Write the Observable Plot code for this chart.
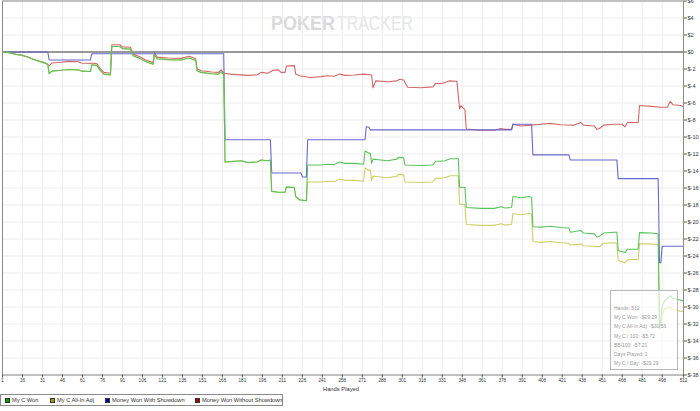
<!DOCTYPE html>
<html>
<head>
<meta charset="utf-8">
<script src="https://cdn.jsdelivr.net/npm/d3@7"></script>
<script src="https://cdn.jsdelivr.net/npm/@observablehq/plot@0.6"></script>
<style>
  html, body { margin: 0; padding: 0; background: #fff; }
  #wrap { position: relative; width: 700px; height: 411px; font-family: Arial, "Liberation Sans", sans-serif; overflow: hidden; }
  #legend { position: absolute; left: 0; top: 394px; width: 283px; height: 12px; border: 1px solid #8a8a8a; box-sizing: border-box; font-size: 5.7px; color: #333; }
  #legend .item { position: absolute; top: 3px; display: flex; align-items: center; white-space: nowrap; line-height: 5px; }
  #legend .sw { width: 3px; height: 3px; border: 0.7px solid #333; margin-right: 2px; }
  #info { position: absolute; left: 610px; top: 290px; width: 68px; height: 80px; border: 1px solid #b8b8b8; box-sizing: border-box; background: rgba(255,255,255,0.65); color: #9a9a9a; font-size: 5px; }
  #info div { position: absolute; left: 3px; white-space: nowrap; }
</style>
</head>
<body>
<div id="wrap"></div>
<script>
// ---------- data ----------
const xTicks = [1,16,31,46,61,76,91,106,121,136,151,166,181,196,211,226,241,256,271,286,301,316,331,346,361,376,391,406,421,436,451,466,481,496,512];
const yTicks = [6,4,2,0,-2,-4,-6,-8,-10,-12,-14,-16,-18,-20,-22,-24,-26,-28,-30,-32,-34,-36,-38];

const seriesNames = ["My C Won", "My C All-In Adj", "Money Won With Showdown", "Money Won Without Showdown"];

// [hand, dollars]
const myCWon = [[1,0],[5,-0.05],[11,-0.27],[16,-0.4],[20,-0.6],[24,-0.85],[28,-1.05],[32,-1.25],[35,-1.45],
 [36,-2.55],[38,-2.25],[45,-2.15],[50,-2.05],[58,-2.1],[60,-2.25],[67,-2.3],[68,-1.5],[72,-1.6],[74,-2.1],[77,-2.6],[82,-2.7],
 [83,0.65],[89,0.65],[91,0.4],[97,0.35],[99,-0.45],[104,-0.75],[108,-1.1],[114,-1.45],[115,-0.3],[117,-0.8],[125,-0.9],[135,-0.95],
 [141,-0.7],[146,-1.0],[147,-2.2],[150,-2.4],[158,-2.55],[163,-2.6],[165,-2.3],[167,-2.7],
 [168,-12.95],[172,-12.9],[180,-12.8],[185,-13.0],[192,-12.95],[195,-12.7],[200,-12.8],[202,-12.7],[203,-16.4],[208,-16.5],[213,-16.5],
 [214,-15.9],[220,-15.95],[221,-17.0],[224,-17.4],[229,-17.5],[230,-13.3],[240,-13.3],[245,-13.2],[250,-13.25],[254,-12.95],[258,-13.1],
 [265,-13.1],[272,-13.2],[273,-11.65],[276,-11.9],[277,-11.9],[278,-13.1],[279,-12.6],[285,-12.7],[290,-12.8],[297,-12.6],[298,-12.4],
 [302,-12.45],[303,-13.3],[315,-13.35],[324,-13.3],[326,-12.85],[330,-12.85],[333,-12.8],[337,-12.55],[343,-12.55],[344,-15.9],[348,-15.95],
 [349,-18.3],[360,-18.4],[370,-18.4],[375,-18.2],[378,-18.35],[383,-18.3],[384,-17.0],[390,-17.15],[396,-17.0],[398,-17.1],[399,-20.55],
 [405,-20.6],[412,-20.5],[420,-20.65],[426,-20.7],[427,-21.2],[435,-21.0],[437,-21.3],[445,-21.4],[447,-21.75],[449,-21.7],[452,-21.3],
 [460,-21.2],[462,-21.2],[463,-23.35],[468,-23.6],[470,-23.2],[478,-23.2],[479,-21.25],[488,-21.3],[493,-21.4],[494,-32.4],[495,-31.5],
 [496,-29.9],[498,-29.2],[500,-29.0],[502,-28.7],[504,-29.0],[510,-29.2],[512,-29.29]];

const myCAllInAdj = [[1,0],[5,-0.05],[11,-0.27],[16,-0.4],[20,-0.6],[24,-0.85],[28,-1.05],[32,-1.25],[35,-1.45],
 [36,-2.55],[38,-2.25],[45,-2.15],[50,-2.05],[58,-2.1],[60,-2.25],[67,-2.3],[68,-1.5],[72,-1.6],[74,-2.1],[77,-2.6],[82,-2.7],
 [83,0.65],[89,0.65],[91,0.4],[97,0.35],[99,-0.45],[104,-0.75],[108,-1.1],[114,-1.45],[115,-0.3],[117,-0.8],[125,-0.9],[135,-0.95],
 [141,-0.7],[146,-1.0],[147,-2.2],[150,-2.4],[158,-2.55],[163,-2.6],[165,-2.3],[167,-2.7],
 [168,-12.95],[172,-12.9],[180,-12.8],[185,-13.0],[192,-12.95],[195,-12.7],[200,-12.8],[202,-12.7],[203,-16.4],[208,-16.5],[213,-16.5],
 [214,-15.9],[220,-15.95],[221,-17.0],[224,-17.4],[229,-17.5],
 [230,-15.3],[240,-15.3],[245,-15.2],[250,-15.25],[254,-14.95],[258,-15.1],[265,-15.1],[272,-15.2],[273,-13.65],[276,-13.9],[277,-13.9],
 [278,-15.1],[279,-14.6],[285,-14.7],[290,-14.8],[297,-14.6],[298,-14.4],[302,-14.45],[303,-15.3],[315,-15.35],[324,-15.3],[326,-14.85],
 [330,-14.85],[333,-14.8],[337,-14.55],[343,-14.55],[344,-17.9],[348,-17.95],[349,-20.3],[360,-20.4],[370,-20.4],[375,-20.2],[378,-20.35],
 [383,-20.3],[384,-19.0],[390,-19.15],[396,-19.0],[398,-19.1],[399,-22.3],[405,-22.4],[412,-22.3],[420,-22.45],[426,-22.5],[427,-22.7],
 [435,-22.6],[437,-22.8],[445,-22.85],[447,-22.9],[449,-22.9],[452,-22.5],[460,-22.45],[462,-22.5],[463,-24.5],[468,-24.8],[470,-24.45],
 [478,-24.4],[479,-22.55],[488,-22.6],[493,-22.65],[494,-32.6],[495,-32.0],[496,-30.9],[498,-30.2],[500,-30.1],[502,-30.0],[504,-30.3],
 [510,-30.5],[512,-30.56]];

const wonWithShowdown = [[1,0],[35,0],[36,-0.94],[67,-0.94],[68,-0.2],[167,-0.2],[168,-10.33],[202,-10.33],[203,-14.23],[225,-14.23],
 [226,-14.7],[229,-14.7],[230,-10.33],[273,-10.33],[274,-8.8],[276,-8.85],[277,-9.16],[383,-9.16],[384,-8.5],[398,-8.5],[399,-12.1],
 [426,-12.1],[427,-12.7],[462,-12.7],[463,-14.9],[493,-14.9],[494,-24.8],[495,-24.8],[496,-22.85],[512,-22.85]];

const wonWithoutShowdown = [[1,0],[5,-0.05],[11,-0.27],[16,-0.4],[20,-0.6],[24,-0.85],[28,-1.05],[32,-1.25],[35,-1.45],
 [36,-1.6],[38,-1.3],[45,-1.2],[50,-1.1],[58,-1.15],[60,-1.3],[67,-1.35],[68,-1.3],[72,-1.4],[74,-1.9],[77,-2.4],[82,-2.5],
 [83,0.85],[89,0.85],[91,0.6],[97,0.55],[99,-0.25],[104,-0.55],[108,-0.9],[114,-1.25],[115,-0.1],[117,-0.6],[125,-0.7],[135,-0.75],
 [141,-0.5],[146,-0.8],[147,-2.0],[150,-2.2],[158,-2.35],[163,-2.4],[165,-2.1],[167,-2.5],[172,-2.6],[185,-2.75],[192,-2.7],[195,-2.4],
 [200,-2.5],[204,-2.15],[208,-2.1],[210,-2.4],[213,-2.4],[214,-1.65],[220,-1.6],[221,-2.6],[224,-2.8],[232,-3.0],[240,-2.9],[245,-2.8],
 [250,-2.85],[254,-2.6],[258,-2.75],[265,-2.7],[272,-2.6],[278,-2.7],[279,-4.2],[281,-3.4],[290,-3.5],[297,-3.4],[299,-3.2],[302,-3.3],
 [305,-4.15],[315,-4.2],[324,-4.1],[326,-3.7],[330,-3.7],[333,-3.6],[336,-3.4],[342,-3.45],[344,-6.7],[345,-6.3],[348,-6.8],[349,-9.05],
 [360,-9.2],[370,-9.2],[375,-9.0],[378,-9.1],[383,-9.1],[384,-8.5],[390,-8.7],[398,-8.6],[405,-8.5],[412,-8.4],[420,-8.55],[430,-8.6],
 [435,-8.3],[437,-8.6],[445,-8.7],[447,-9.1],[449,-9.0],[452,-8.6],[460,-8.5],[466,-8.5],[468,-8.8],[470,-8.3],[478,-8.3],[479,-6.3],
 [488,-6.4],[495,-6.5],[500,-6.5],[502,-5.8],[504,-6.2],[510,-6.3],[512,-6.45]];

const lineColors = ["#52c052", "#cccc5e", "#6060d0", "#d06060"];
const legendColors = ["#00a000", "#a0a000", "#0000a0", "#a00000"];

const infoLines = ["Hands: 512", "My C Won: -$29.29", "My C All-In Adj: -$30.56", "My C / 100: -$5.72", "BB/100: -57.21", "Days Played: 1", "My C / Day: -$29.29"];

// ---------- build ----------
const toRows = (arr, name) => arr.map(([hand, value]) => ({hand, value, series: name}));
const drawOrder = [
  [wonWithoutShowdown, 3],
  [wonWithShowdown, 2],
  [myCAllInAdj, 1],
  [myCWon, 0]
];

const marks = [
  Plot.ruleX(xTicks, {stroke: "#ececec", strokeWidth: 1}),
  Plot.ruleY(yTicks, {stroke: "#ececec", strokeWidth: 1}),
  Plot.ruleY([0], {stroke: "#7a7a7a", strokeWidth: 1.4}),
  ...drawOrder.map(([arr, i]) => Plot.line(toRows(arr, seriesNames[i]), {
    x: "hand", y: "value", stroke: lineColors[i], strokeWidth: 1.1, strokeOpacity: 0.95
  })),
  Plot.frame({stroke: "#8a8a8a", strokeWidth: 1}),
  Plot.axisX({ticks: xTicks, tickSize: 3, tickPadding: 1, fontSize: 4.6, tickFormat: d => String(d), label: null, stroke: "#555", fill: "#333"}),
  Plot.axisY({anchor: "right", ticks: yTicks, tickSize: 3, tickPadding: 1, fontSize: 5.6, tickFormat: d => "$" + d, label: null, stroke: "#555", fill: "#333"})
];

const chart = Plot.plot({
  width: 700,
  height: 392,
  marginLeft: 2,
  marginRight: 17,
  marginTop: 0.5,
  marginBottom: 17.5,
  x: {domain: [1, 512]},
  y: {domain: [-38, 6]},
  style: {fontFamily: "Arial, 'Liberation Sans', sans-serif", background: "white", overflow: "visible"},
  marks
});

const wrap = document.getElementById("wrap");
wrap.appendChild(chart);

// watermark + axis title inside the svg
const svg = d3.select(chart);
svg.insert("text", ":first-child")
  .attr("x", 271).attr("y", 30)
  .attr("text-anchor", "start")
  .attr("font-size", 20).attr("font-weight", "bold").attr("fill", "#d9d9d9")
  .attr("font-family", "Arial, 'Liberation Sans', sans-serif")
  .attr("textLength", 64).attr("lengthAdjust", "spacingAndGlyphs")
  .text("POKER");
svg.insert("text", ":first-child")
  .attr("x", 337).attr("y", 30)
  .attr("text-anchor", "start")
  .attr("font-size", 20).attr("fill", "#e6e6e6")
  .attr("font-family", "Arial, 'Liberation Sans', sans-serif")
  .attr("textLength", 76).attr("lengthAdjust", "spacingAndGlyphs")
  .text("TRACKER");
svg.insert("rect", ":first-child").attr("width", 700).attr("height", 392).attr("fill", "white");

svg.append("text")
  .attr("x", 341).attr("y", 391)
  .attr("text-anchor", "middle")
  .attr("font-size", 5.8).attr("fill", "#333")
  .text("Hands Played");

// legend
const legend = document.createElement("div");
legend.id = "legend";
const legendX = [4, 49, 104, 194];
seriesNames.forEach((name, i) => {
  const it = document.createElement("div");
  it.className = "item";
  it.style.left = legendX[i] + "px";
  const sw = document.createElement("span");
  sw.className = "sw";
  sw.style.background = legendColors[i];
  it.appendChild(sw);
  it.appendChild(document.createTextNode(name));
  legend.appendChild(it);
});
wrap.appendChild(legend);

// info box
const info = document.createElement("div");
info.id = "info";
infoLines.forEach((t, i) => {
  const d = document.createElement("div");
  d.style.top = (14 + i * 9.2) + "px";
  d.textContent = t;
  info.appendChild(d);
});
wrap.appendChild(info);
</script>
</body>
</html>
